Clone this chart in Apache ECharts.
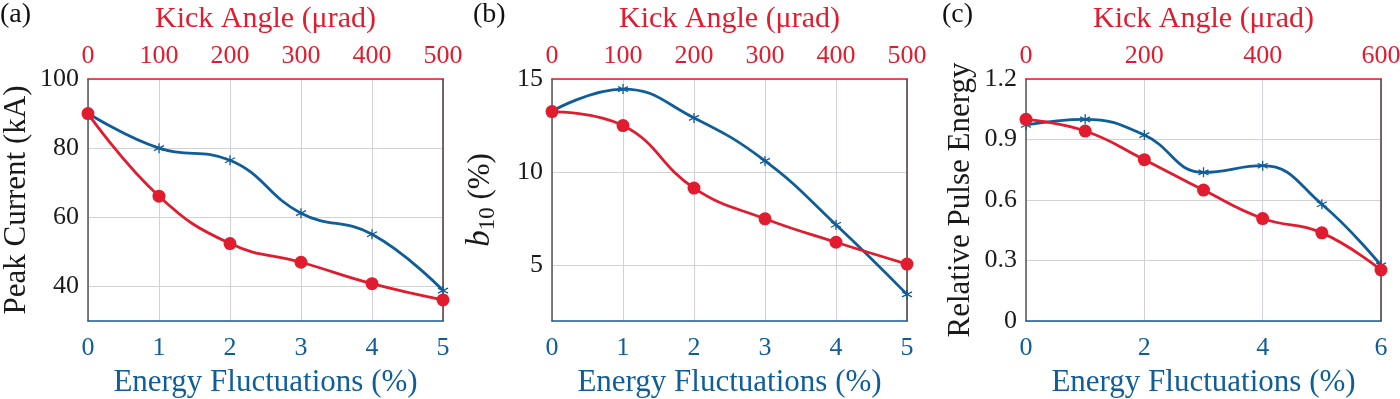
<!DOCTYPE html>
<html>
<head>
<meta charset="utf-8">
<script src="https://cdn.jsdelivr.net/npm/echarts@6/dist/echarts.min.js"></script>
<style>
html,body{margin:0;padding:0;background:#fff;}
#chart{width:1400px;height:399px;}
</style>
</head>
<body>
<div id="chart"></div>
<script>
// ---- data ----
const energyA = [0, 1, 2, 3, 4, 5];
const kickA = [0, 100, 200, 300, 400, 500];
const peakCurrentBlue = [90.1, 80.0, 76.5, 61.2, 55.1, 38.8];
const peakCurrentRed = [90.0, 66.1, 52.4, 47.0, 40.8, 36.1];

const energyB = [0, 1, 2, 3, 4, 5];
const kickB = [0, 100, 200, 300, 400, 500];
const b10Blue = [13.27, 14.46, 12.91, 10.6, 7.17, 3.43];
const b10Red = [13.25, 12.5, 9.14, 7.49, 6.23, 5.06];

const energyC = [0, 1, 2, 3, 4, 5, 6];
const kickC = [0, 100, 200, 300, 400, 500, 600];
const pulseBlue = [0.972, 1.0, 0.922, 0.737, 0.77, 0.579, 0.276];
const pulseRed = [1.0, 0.942, 0.80, 0.649, 0.508, 0.437, 0.253];

// axis ranges and tick labels
const yRangeA = [30, 100], yTickValuesA = [40, 60, 80, 100];
const yRangeB = [2, 15],   yTickValuesB = [5, 10, 15];
const yRangeC = [0, 1.2],  yTickValuesC = [0, 0.3, 0.6, 0.9, 1.2];
const xBottomTicksA = [0, 1, 2, 3, 4, 5], xTopTicksA = [0, 100, 200, 300, 400, 500];
const xBottomTicksB = [0, 1, 2, 3, 4, 5], xTopTicksB = [0, 100, 200, 300, 400, 500];
const xBottomTicksC = [0, 2, 4, 6],       xTopTicksC = [0, 200, 400, 600];

const panelLabels = ['(a)', '(b)', '(c)'];
const yNames = ['Peak Current (kA)', '{i|b}{s|10} (%)', 'Relative Pulse Energy'];
const topName = 'Kick Angle (\u03bcrad)';
const bottomName = 'Energy Fluctuations (%)';

// ---- styles ----
const BLUE = '#0f5d99';
const RED = '#e21c2f';
const FONT = 'Liberation Serif';
const ASTERISK = 'path://M0,-1L0,1M-0.866,-0.5L0.866,0.5M-0.866,0.5L0.866,-0.5';

const grids = [
  {left: 88, top: 79, width: 355, height: 242, outerBoundsMode: 'none', containLabel: false},
  {left: 552, top: 79, width: 355, height: 242, outerBoundsMode: 'none', containLabel: false},
  {left: 1026, top: 79, width: 355, height: 242, outerBoundsMode: 'none', containLabel: false}
];
const yRanges = [yRangeA, yRangeB, yRangeC];
const yTicks = [yTickValuesA, yTickValuesB, yTickValuesC];
const xb = [xBottomTicksA, xBottomTicksB, xBottomTicksC];
const xt = [xTopTicksA, xTopTicksB, xTopTicksC];
const yNameGaps = [56, 53, 50];

function yFmt(i) {
  return function (v) { return i === 2 ? (v === 0 ? '0' : v.toFixed(1)) : String(v); };
}

const xAxes = [], yAxes = [], series = [];
for (let i = 0; i < 3; i++) {
  const bt = xb[i], tt = xt[i];
  xAxes.push({
    type: 'value', gridIndex: i, position: 'bottom',
    min: bt[0], max: bt[bt.length - 1], interval: bt[1] - bt[0],
    axisLine: {show: true, onZero: false, lineStyle: {color: BLUE, width: 1.5}},
    axisTick: {show: false},
    axisLabel: {color: BLUE, fontFamily: FONT, fontSize: 26, margin: 14},
    splitLine: {show: true, lineStyle: {color: '#d6cede', width: 1}},
    name: bottomName, nameLocation: 'middle', nameGap: 46,
    nameTextStyle: {color: BLUE, fontFamily: FONT, fontSize: 31}
  });
  xAxes.push({
    type: 'value', gridIndex: i, position: 'top',
    min: tt[0], max: tt[tt.length - 1], interval: tt[1] - tt[0],
    axisLine: {show: true, onZero: false, lineStyle: {color: RED, width: 1.5}},
    axisTick: {show: false},
    axisLabel: {color: RED, fontFamily: FONT, fontSize: 26, margin: 10},
    splitLine: {show: false},
    name: topName, nameLocation: 'middle', nameGap: 45,
    nameTextStyle: {color: RED, fontFamily: FONT, fontSize: 30}
  });
  yAxes.push({
    type: 'value', gridIndex: i, position: 'left',
    min: yRanges[i][0], max: yRanges[i][1],
    axisLine: {show: true, onZero: false, lineStyle: {color: '#555555', width: 1.5}},
    axisTick: {show: false, customValues: yTicks[i]},
    axisLabel: {color: '#1a1a1a', fontFamily: FONT, fontSize: 26, margin: 9,
      customValues: yTicks[i], formatter: yFmt(i)},
    splitLine: {show: true, lineStyle: {color: '#d2d2d2', width: 1}},
    name: yNames[i], nameLocation: 'middle', nameGap: yNameGaps[i],
    nameTextStyle: {color: '#1a1a1a', fontFamily: FONT, fontSize: 31,
      rich: {
        i: {fontFamily: FONT, fontStyle: 'italic', fontSize: 33, color: '#1a1a1a'},
        s: {fontFamily: FONT, fontSize: 23, color: '#1a1a1a', verticalAlign: 'bottom', padding: [14, 0, 0, 0]}
      }}
  });
  yAxes.push({
    type: 'value', gridIndex: i, position: 'right',
    min: yRanges[i][0], max: yRanges[i][1],
    axisLine: {show: true, onZero: false, lineStyle: {color: '#4d3a3a', width: 1.5}},
    axisTick: {show: false}, axisLabel: {show: false}, splitLine: {show: false}
  });
}

function pairs(xs, ys) { return xs.map((x, k) => [x, ys[k]]); }

const blueData = [pairs(energyA, peakCurrentBlue), pairs(energyB, b10Blue), pairs(energyC, pulseBlue)];
const redData = [pairs(kickA, peakCurrentRed), pairs(kickB, b10Red), pairs(kickC, pulseRed)];

for (let i = 0; i < 3; i++) {
  series.push({
    type: 'line', xAxisIndex: 2 * i, yAxisIndex: 2 * i,
    data: blueData[i], smooth: 0.45,
    lineStyle: {color: BLUE, width: 2.8},
    symbol: ASTERISK, symbolSize: 10,
    itemStyle: {color: 'none', borderColor: BLUE, borderWidth: 1.3},
    emphasis: {disabled: true}, z: 3
  });
  series.push({
    type: 'line', xAxisIndex: 2 * i + 1, yAxisIndex: 2 * i,
    data: redData[i], smooth: 0.45,
    lineStyle: {color: RED, width: 2.8},
    symbol: 'circle', symbolSize: 13,
    itemStyle: {color: RED, borderWidth: 0},
    emphasis: {disabled: true}, z: 4
  });
}

const panelX = [0, 473, 942];
const graphic = panelLabels.map((t, i) => ({
  type: 'text', left: panelX[i], top: 1,
  style: {text: t, fontSize: 28, fontFamily: FONT, fill: '#111'}
}));

const chart = echarts.init(document.getElementById('chart'));
chart.setOption({
  animation: false,
  backgroundColor: '#ffffff',
  grid: grids,
  xAxis: xAxes,
  yAxis: yAxes,
  series: series,
  graphic: graphic
});
</script>
</body>
</html>
